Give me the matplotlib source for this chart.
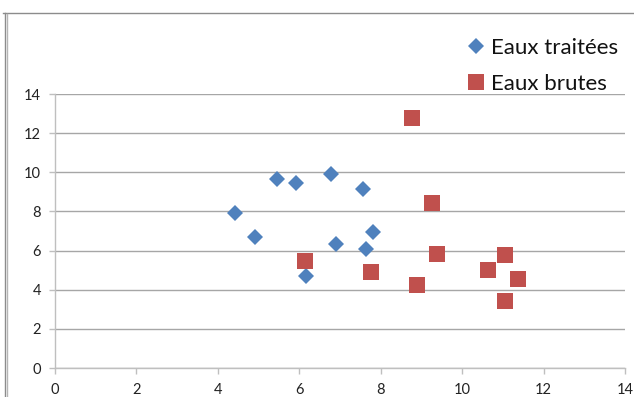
import matplotlib.pyplot as plt
from matplotlib.lines import Line2D

plt.rcParams['font.family'] = ['Lato', 'DejaVu Sans']

# data
traitees_x = [4.42, 4.92, 5.45, 5.91, 6.78, 7.57, 7.80, 6.90, 7.65, 6.17]
traitees_y = [7.94, 6.68, 9.67, 9.45, 9.91, 9.15, 6.93, 6.35, 6.10, 4.69]

brutes_x = [8.78, 9.27, 6.13, 9.38, 7.76, 8.90, 10.64, 11.06, 11.38, 11.06]
brutes_y = [12.79, 8.42, 5.47, 5.84, 4.91, 4.23, 5.02, 5.77, 4.56, 3.41]

ticks = [0, 2, 4, 6, 8, 10, 12, 14]

blue = '#4f81bd'
red = '#c0504d'

fig = plt.figure(figsize=(6.34, 3.97), dpi=100)
ax = fig.add_axes([55 / 634, 29 / 397, 570 / 634, 274 / 397])

ax.plot(traitees_x, traitees_y, 'D', color=blue, markersize=8.5,
        markeredgewidth=0, label='Eaux traitées', zorder=3)
ax.plot(brutes_x, brutes_y, 's', color=red, markersize=11.5,
        markeredgewidth=0, label='Eaux brutes', zorder=3)

ax.set_xlim(0, 14)
ax.set_ylim(0, 14)
ax.set_xticks(ticks)
ax.set_yticks(ticks)
ax.yaxis.grid(True, color='#a6a6a6', linewidth=1)
ax.set_axisbelow(True)

for side in ['top', 'right']:
    ax.spines[side].set_visible(False)
for side in ['left', 'bottom']:
    ax.spines[side].set_color('#bfbfbf')
    ax.spines[side].set_linewidth(1)
ax.tick_params(axis='both', colors='#bfbfbf', labelcolor='#222222',
               labelsize=10.5, length=4, width=1)
ax.tick_params(axis='y', pad=6)
ax.tick_params(axis='x', pad=7)

# legend outside, top right
handles = [
    Line2D([], [], marker='D', linestyle='none', color=blue, markersize=8, markeredgewidth=0),
    Line2D([], [], marker='s', linestyle='none', color=red, markersize=11, markeredgewidth=0),
]
fig.legend(handles, ['Eaux traitées', 'Eaux brutes'], loc='upper left',
           bbox_to_anchor=(468 / 634, 1 - 38 / 397), frameon=False,
           fontsize=16, labelcolor='#111111', handlelength=0.7, handletextpad=0.35,
           labelspacing=0.7, borderpad=0, borderaxespad=0)

# chart area frame (partly cropped)
fig.add_artist(Line2D([3 / 634, 1], [1 - 13 / 397] * 2, color='#8c8c8c', linewidth=1))
fig.add_artist(Line2D([4.5 / 634] * 2, [0, 1 - 13 / 397], color='#8c8c8c', linewidth=1))
fig.add_artist(Line2D([6.5 / 634] * 2, [0, 1 - 14 / 397], color='#b5b5b5', linewidth=1))

fig.savefig('out.png', dpi=100)
